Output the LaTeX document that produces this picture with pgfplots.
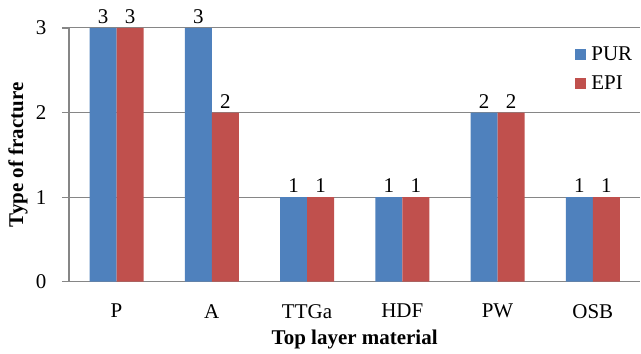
\documentclass[border=0pt]{standalone}
\usepackage{pgfplots}
\pgfplotsset{compat=1.18}
\usepackage{fontspec}
\setmainfont{Liberation Serif}
\definecolor{pur}{HTML}{4F81BD}
\definecolor{epi}{HTML}{C0504D}
\definecolor{axgray}{HTML}{868686}
\begin{document}
\begin{tikzpicture}
\begin{axis}[
  scale only axis,
  width=572pt, height=254pt,
  xmin=-0.5, xmax=5.5, ymin=0, ymax=3,
  axis x line*=bottom, axis y line*=left,
  axis line style={axgray, line width=1.2pt, -},
  xtick={0,1,2,3,4,5},
  xticklabels={P,A,TTGa,HDF,PW,OSB},
  ytick={0,1,2,3},
  major x tick style={draw=none},
  major y tick style={axgray, line width=1.2pt},
  tick align=outside,
  major tick length=7pt,
  ymajorgrids,
  grid style={axgray, line width=1pt},
  tick label style={font=\fontsize{21}{25}\selectfont},
  /pgf/number format/assume math mode=true,
  xticklabel style={yshift=-12pt},
  yticklabel style={xshift=-12pt},
  xlabel={\textbf{Top layer material}},
  ylabel={\textbf{Type of fracture}},
  label style={font=\fontsize{21}{25}\selectfont},
  xlabel style={at={(axis description cs:0.5,0)}, anchor=center, yshift=-58pt},
  ylabel style={at={(axis description cs:0,0.5)}, anchor=center, yshift=51pt},
  ybar, bar width=27pt,
  enlarge x limits=false,
  nodes near coords,
  every node near coord/.append style={font=\fontsize{21}{25}\selectfont, yshift=1pt},
  legend style={at={(1,0.94)}, anchor=north east, xshift=-5pt, draw=none, fill=none,
    font=\fontsize{21}{25}\selectfont, row sep=10pt, inner sep=1pt},
  legend cell align=left,
  legend image code/.code={\fill[#1] (0pt,-5.5pt) rectangle (11pt,5.5pt); \path (14pt,0pt);},
  clip=false,
]
\addplot[fill=pur, draw=none, bar shift=-13.5pt] coordinates {(0,3) (1,3) (2,1) (3,1) (4,2) (5,1)};
\addplot[fill=epi, draw=none, bar shift=13.5pt] coordinates {(0,3) (1,2) (2,1) (3,1) (4,2) (5,1)};
\legend{PUR,EPI}
\end{axis}
\path (current axis.south west) ++(-69pt,-72pt);
\path (current axis.north east) ++(0pt,28pt);
\end{tikzpicture}
\end{document}
